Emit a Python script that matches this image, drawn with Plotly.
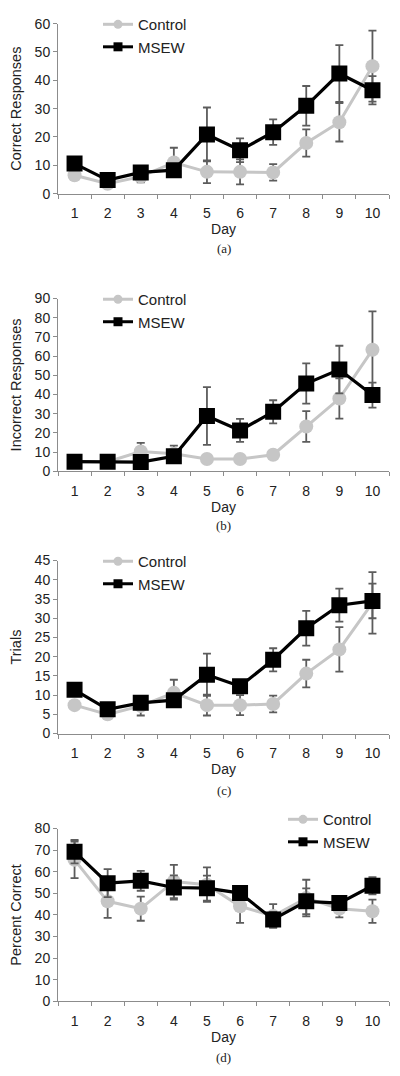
import plotly.graph_objects as go

days = [1, 2, 3, 4, 5, 6, 7, 8, 9, 10]
day_labels = [str(d) for d in days]

# (a) Correct Responses
a_control = [6.5, 3.5, 6.0, 11.0, 7.7, 7.7, 7.5, 17.9, 25.2, 45.0]
a_control_err = [1.0, 1.0, 2.0, 5.2, 4.0, 4.4, 2.9, 4.8, 6.8, 12.5]
a_msew = [10.6, 4.8, 7.5, 8.3, 20.9, 15.3, 21.7, 31.0, 42.4, 36.5]
a_msew_err = [1.0, 1.0, 1.5, 2.0, 9.5, 4.2, 4.5, 7.0, 10.0, 5.0]

# (b) Incorrect Responses
b_control = [5.0, 5.0, 10.3, 9.1, 6.4, 6.4, 8.6, 23.3, 37.9, 63.3]
b_control_err = [1.0, 1.0, 4.5, 4.3, 1.5, 1.5, 1.5, 8.0, 10.5, 20.0]
b_msew = [5.0, 5.0, 4.8, 7.8, 28.8, 21.3, 31.0, 45.7, 53.0, 39.7]
b_msew_err = [1.0, 1.0, 1.0, 3.0, 15.0, 6.0, 6.0, 10.5, 12.4, 6.5]

# (c) Trials
c_control = [7.4, 5.0, 7.2, 10.6, 7.4, 7.4, 7.7, 15.6, 21.9, 34.0]
c_control_err = [1.0, 0.8, 2.5, 3.4, 2.7, 2.6, 2.2, 3.6, 5.8, 8.0]
c_msew = [11.4, 6.3, 8.0, 8.7, 15.3, 12.3, 19.2, 27.4, 33.4, 34.5]
c_msew_err = [1.0, 0.8, 1.0, 1.5, 5.5, 1.5, 3.0, 4.5, 4.3, 4.5]

# (d) Percent Correct
d_control = [65.5, 46.3, 42.9, 55.5, 54.0, 44.0, 39.5, 47.8, 42.9, 41.7]
d_control_err = [8.5, 7.7, 5.6, 7.7, 8.0, 7.7, 5.5, 8.5, 4.0, 5.4]
d_msew = [69.3, 54.7, 55.8, 52.7, 52.4, 50.1, 37.9, 46.3, 45.5, 53.5]
d_msew_err = [5.4, 6.5, 4.6, 5.6, 5.8, 3.0, 3.5, 6.0, 3.0, 4.0]

y_titles = ["Correct Responses", "Incorrect Responses", "Trials", "Percent Correct"]
y_max = [60, 90, 45, 80]
y_step = [10, 10, 5, 10]
captions = ["(a)", "(b)", "(c)", "(d)"]

# page body has an 8px margin; the figure fills the rest of the 400x1076 window
OFF = 8
W, H = 400 - OFF, 1076 - OFF
CTRL_COLOR = "#c6c6c6"
MSEW_COLOR = "#000000"
ERR_COLOR = "#5c5c5c"
AXIS_COLOR = "#8c8c8c"
TEXT_COLOR = "#222222"
FONT = "Liberation Sans, Arial, sans-serif"

# window-pixel layout (top, bottom of each plot area)
px_top = [15.7, 292.7, 556.7, 826.7]
px_bot = [187.0, 466.7, 731.0, 1000.7]
x_left, x_right = 58.0, 389.0
legend_pos = [(98, 0), (98, 277), (98, 541), (283, 801)]
caption_y = [242, 521.7, 788, 1057]


def fx(px):
    return (px - OFF) / W


def fy(py):
    return 1 - (py - OFF) / H


series = [
    (a_control, a_control_err, a_msew, a_msew_err),
    (b_control, b_control_err, b_msew, b_msew_err),
    (c_control, c_control_err, c_msew, c_msew_err),
    (d_control, d_control_err, d_msew, d_msew_err),
]

fig = go.Figure()
layout = dict(
    width=W, height=H,
    margin=dict(l=0, r=0, t=0, b=0),
    paper_bgcolor="white", plot_bgcolor="white",
    font=dict(family=FONT, color=TEXT_COLOR, size=14),
    showlegend=True,
    template="none",
)
annotations = []

for i in range(4):
    sfx = "" if i == 0 else str(i + 1)
    xa, ya = "x" + sfx, "y" + sfx
    leg = "legend" + sfx
    ctrl, ctrl_err, msew, msew_err = series[i]

    fig.add_trace(go.Scatter(
        x=day_labels, y=ctrl, mode="lines+markers", name="Control",
        xaxis=xa, yaxis=ya, showlegend=False,
        line=dict(color=CTRL_COLOR, width=3),
        marker=dict(symbol="circle", size=14, color=CTRL_COLOR),
        error_y=dict(type="data", array=ctrl_err, visible=True,
                     color=ERR_COLOR, thickness=1.8, width=4),
    ))
    fig.add_trace(go.Scatter(
        x=day_labels, y=msew, mode="lines+markers", name="MSEW",
        xaxis=xa, yaxis=ya, showlegend=False,
        line=dict(color=MSEW_COLOR, width=3.2),
        marker=dict(symbol="square", size=16, color=MSEW_COLOR),
        error_y=dict(type="data", array=msew_err, visible=True,
                     color=ERR_COLOR, thickness=1.8, width=4),
    ))
    # legend entries
    fig.add_trace(go.Scatter(
        x=[None], y=[None], mode="lines+markers", name="Control",
        xaxis=xa, yaxis=ya, legend=leg, legendgroup="c" + sfx,
        line=dict(color=CTRL_COLOR, width=3),
        marker=dict(symbol="circle", size=9, color=CTRL_COLOR),
    ))
    fig.add_trace(go.Scatter(
        x=[None], y=[None], mode="lines+markers", name="MSEW",
        xaxis=xa, yaxis=ya, legend=leg, legendgroup="m" + sfx,
        line=dict(color=MSEW_COLOR, width=3),
        marker=dict(symbol="square", size=9, color=MSEW_COLOR),
    ))

    layout["xaxis" + sfx] = dict(
        domain=[fx(x_left), fx(x_right)], anchor=ya, type="category",
        categoryorder="array", categoryarray=day_labels,
        range=[-0.5, 9.5], tickson="boundaries",
        showline=True, linecolor=AXIS_COLOR, linewidth=1,
        ticks="outside", ticklen=4, tickcolor=AXIS_COLOR,
        showgrid=False, zeroline=False, automargin=False,
        tickfont=dict(size=14, color=TEXT_COLOR), ticklabelstandoff=7,
        title=dict(text="Day", font=dict(size=14, color=TEXT_COLOR), standoff=3),
    )
    layout["yaxis" + sfx] = dict(
        domain=[fy(px_bot[i]), fy(px_top[i])], anchor=xa, range=[0, y_max[i]],
        tickmode="linear", tick0=0, dtick=y_step[i],
        showline=True, linecolor=AXIS_COLOR, linewidth=1,
        ticks="outside", ticklen=4, tickcolor=AXIS_COLOR,
        showgrid=False, zeroline=False, automargin=False,
        tickfont=dict(size=14, color=TEXT_COLOR),
        title=dict(text=y_titles[i], font=dict(size=14.5, color=TEXT_COLOR), standoff=9),
    )
    lx, ly = legend_pos[i]
    layout[leg] = dict(
        x=fx(lx), y=fy(ly), xanchor="left", yanchor="top",
        bgcolor="rgba(0,0,0,0)", font=dict(size=15, color=TEXT_COLOR),
        tracegroupgap=2, itemwidth=30, traceorder="normal",
    )
    annotations.append(dict(
        text=captions[i], xref="paper", yref="paper",
        x=fx((x_left + x_right) / 2), y=fy(caption_y[i]),
        xanchor="center", yanchor="middle", showarrow=False,
        font=dict(family="Liberation Serif, Times New Roman, serif", size=13, color=TEXT_COLOR),
    ))

layout["annotations"] = annotations
fig.update_layout(**layout)
fig.write_html("out.html")
